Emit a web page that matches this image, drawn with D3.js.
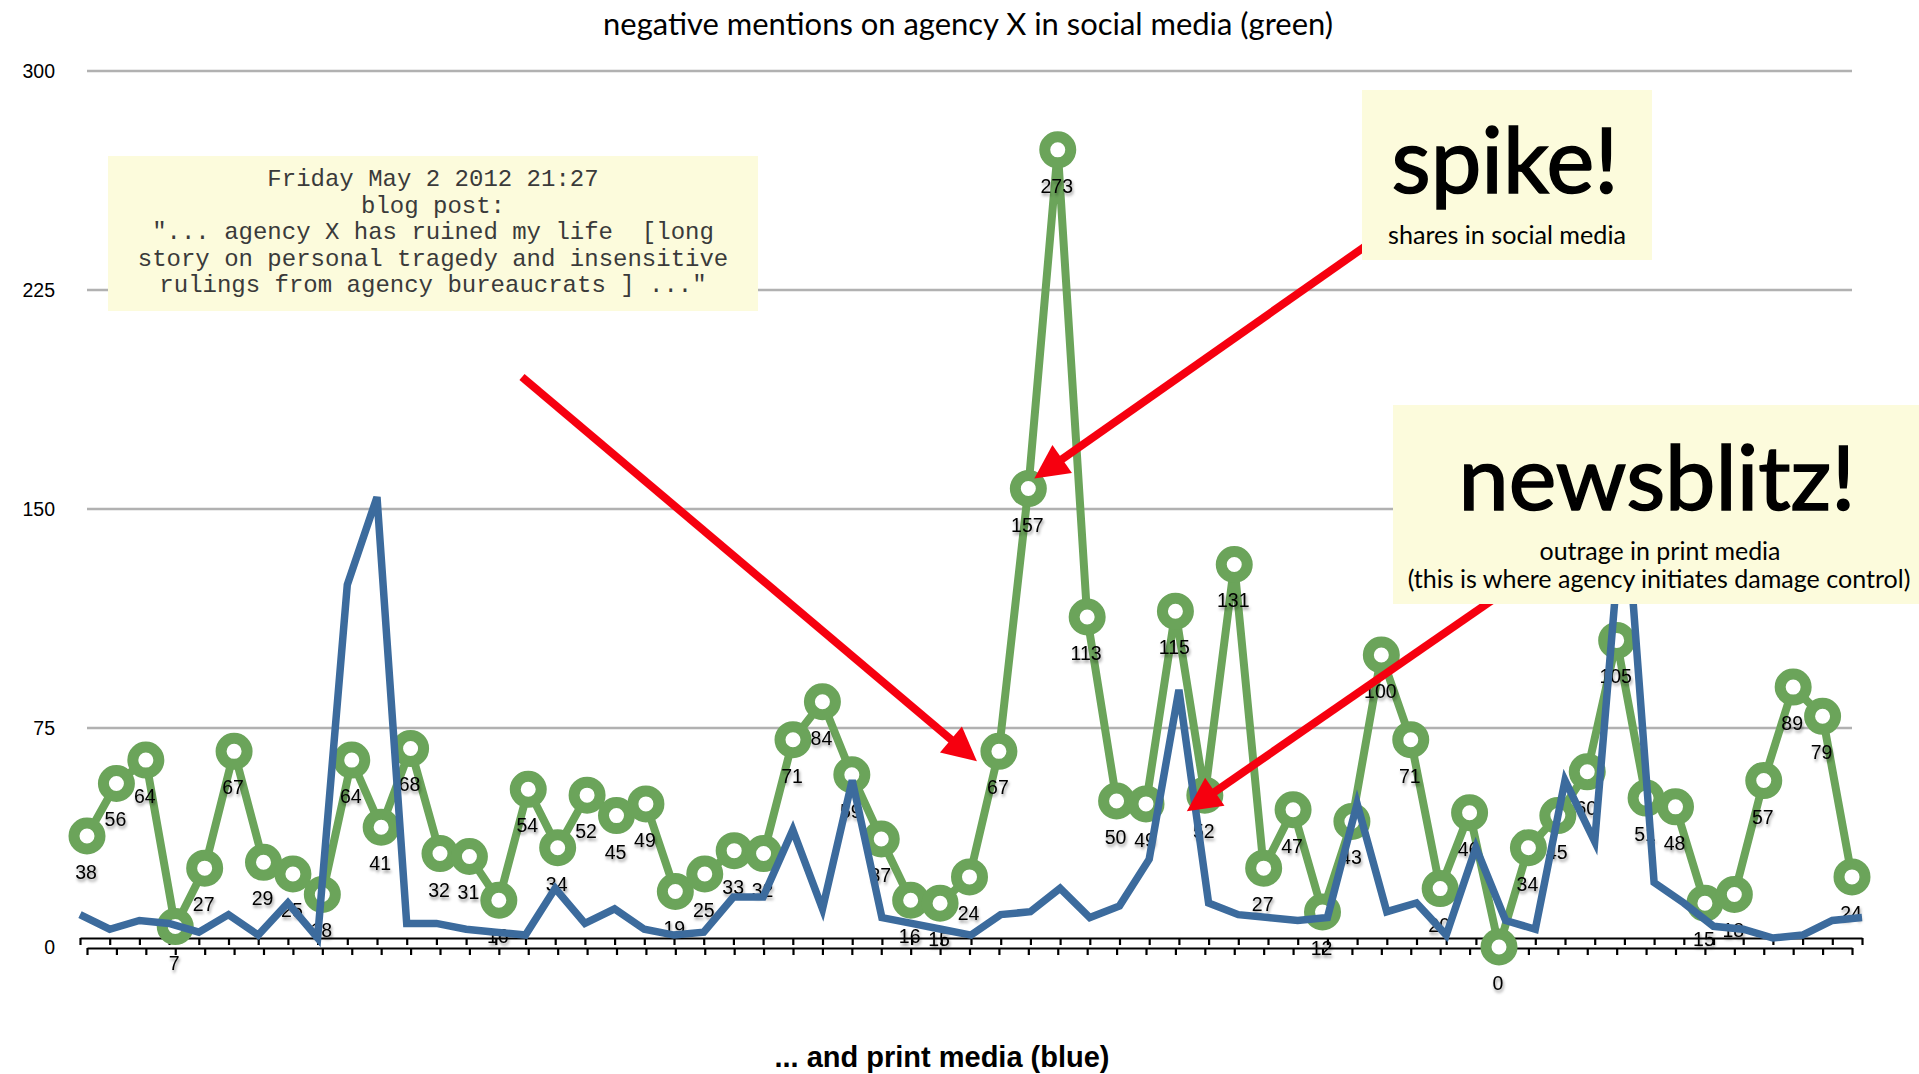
<!DOCTYPE html>
<html>
<head>
<meta charset="utf-8">
<script src="https://cdn.jsdelivr.net/npm/d3@7"></script>
<style>
  html, body { margin: 0; padding: 0; background: #fff; }
  svg { display: block; }
</style>
</head>
<body>
<svg id="chart" width="1919" height="1074"></svg>
<script>
// Negative mentions per day, social media (green) and print media (blue)
const days = d3.range(61);
const socialMentions = [
  38, 56, 64, 7, 27, 67, 29, 25, 18, 64, 41, 68, 32, 31, 16, 54, 34, 52, 45, 49,
  19, 25, 33, 32, 71, 84, 59, 37, 16, 15, 24, 67, 157, 273, 113, 50, 49, 115, 52, 131,
  27, 47, 12, 43, 100, 71, 20, 46, 0, 34, 45, 60, 105, 51, 48, 15, 18, 57, 89, 79, 24
];
const printMentions = [
  8, 3, 6, 5, 2, 8, 1, 12, 0, 121, 151, 5, 5, 3, 2, 1, 17, 5, 10, 3,
  1, 2, 14, 14, 37, 10, 54, 7, 5, 3, 1, 8, 9, 17, 7, 11, 27, 85, 12, 8,
  7, 6, 7, 46, 9, 12, 1, 31, 6, 3, 54, 33, 155, 19, 12, 4, 3, 0, 1, 6, 7
];
const yTicks = [0, 75, 150, 225, 300];

const titleText = "negative mentions on agency X in social media (green)";
const footText = "... and print media (blue)";
const blogLines = [
  "Friday May 2 2012 21:27",
  "blog post:",
  "\"... agency X has ruined my life  [long",
  "story on personal tragedy and insensitive",
  "rulings from agency bureaucrats ] ...\""
];

const GREEN = "#6ba45a";
const BLUE = "#3c6b9d";
const RED = "#f6000f";
const NOTE = "#fcfbdc";
const FUTURA = "Lato, 'Noto Sans', sans-serif";

const svg = d3.select("#chart");

// Two overlaid plots: social (green) and print (blue), each with its own axis
const xG = d3.scalePoint().domain(days).range([87, 1852]);
const yG = d3.scaleLinear().domain([0, 300]).range([947, 71]);
const xB = d3.scalePoint().domain(days).range([80, 1862]);
const yB = d3.scaleLinear().domain([0, 300]).range([938, 62]);

const defs = svg.append("defs");
const shadow = defs.append("filter").attr("id", "lblShadow")
  .attr("x", "-30%").attr("y", "-30%").attr("width", "160%").attr("height", "170%");
shadow.append("feDropShadow").attr("dx", 1).attr("dy", 2.5)
  .attr("stdDeviation", 1.6).attr("flood-color", "#000").attr("flood-opacity", 0.45);

// helper: scale a text's font size so that it spans a given width
function fitWidth(sel, width) {
  const w = sel.node().getComputedTextLength();
  const fs = parseFloat(sel.attr("font-size"));
  sel.attr("font-size", (fs * width / w).toFixed(2));
  return sel;
}

// Title
fitWidth(svg.append("text")
  .attr("x", 968).attr("y", 35)
  .attr("text-anchor", "middle")
  .attr("font-family", FUTURA).attr("font-size", 24).attr("fill", "#000")
  .text(titleText), 730);

// Gridlines
svg.append("g").selectAll("line")
  .data(yTicks.filter(d => d > 0))
  .join("line")
  .attr("x1", xG.range()[0]).attr("x2", xG.range()[1])
  .attr("y1", d => yG(d)).attr("y2", d => yG(d))
  .attr("stroke", "#b1b1b1").attr("stroke-width", 2.6);

// Y-axis labels
svg.append("g").selectAll("text")
  .data(yTicks)
  .join("text")
  .attr("x", 55).attr("y", d => yG(d) + 7)
  .attr("text-anchor", "end")
  .attr("font-family", "'Liberation Sans', Arial, sans-serif")
  .attr("font-size", 19.5).attr("fill", "#000")
  .text(d => d);

// X axes (no tick labels)
function styleAxis(g) {
  g.select(".domain").attr("stroke", "#000").attr("stroke-width", 2.2);
  g.selectAll(".tick line").attr("stroke", "#000").attr("stroke-width", 2.2);
}
svg.append("g").attr("transform", `translate(0,${yB(0)})`)
  .call(d3.axisBottom(xB).tickSize(7).tickSizeOuter(0).tickFormat(""))
  .call(styleAxis);
svg.append("g").attr("transform", `translate(0,${yG(0) + 1})`)
  .call(d3.axisBottom(xG).tickSize(7).tickSizeOuter(0).tickFormat(""))
  .call(styleAxis);

// Social media line with ring markers
svg.append("path")
  .datum(socialMentions)
  .attr("fill", "none").attr("stroke", GREEN).attr("stroke-width", 8)
  .attr("d", d3.line().x((d, i) => xG(i)).y(d => yG(d)));

svg.append("g").selectAll("circle")
  .data(socialMentions)
  .join("circle")
  .attr("cx", (d, i) => xG(i)).attr("cy", d => yG(d))
  .attr("r", 13)
  .attr("fill", "#fff").attr("stroke", GREEN).attr("stroke-width", 11);

// Value labels under each marker
svg.append("g").attr("filter", "url(#lblShadow)")
  .selectAll("text")
  .data(socialMentions)
  .join("text")
  .attr("x", (d, i) => xG(i) - 1).attr("y", d => yG(d) + 43)
  .attr("text-anchor", "middle")
  .attr("font-family", "'Liberation Sans', Arial, sans-serif")
  .attr("font-size", 19.5).attr("fill", "#000")
  .text(d => d);

// Print media line
svg.append("path")
  .datum(printMentions)
  .attr("fill", "none").attr("stroke", BLUE).attr("stroke-width", 7.5)
  .attr("d", d3.line().x((d, i) => xB(i)).y(d => yB(d)));

// Annotation arrows, tips placed relative to the marked days
function arrow(x1, y1, x2, y2) {
  const ang = Math.atan2(y2 - y1, x2 - x1);
  const len = 34, half = 17;
  const bx = x2 - len * Math.cos(ang), by = y2 - len * Math.sin(ang);
  const g = svg.append("g");
  g.append("line")
    .attr("x1", x1).attr("y1", y1).attr("x2", bx + 2 * Math.cos(ang)).attr("y2", by + 2 * Math.sin(ang))
    .attr("stroke", RED).attr("stroke-width", 8);
  g.append("path")
    .attr("d", `M${x2},${y2}L${bx + half * Math.sin(ang)},${by - half * Math.cos(ang)}L${bx - half * Math.sin(ang)},${by + half * Math.cos(ang)}Z`)
    .attr("fill", RED);
}
arrow(522, 377, xG(31) - 22, yG(socialMentions[31]) + 10);
arrow(1380, 236, xG(32) + 6, yG(socialMentions[32]) - 10);
arrow(1504, 592, xG(38) - 18, yG(socialMentions[38]) + 16);

// Note: blog post
svg.append("rect").attr("x", 108).attr("y", 156).attr("width", 650).attr("height", 155).attr("fill", NOTE);
svg.append("g").selectAll("text")
  .data(blogLines)
  .join("text")
  .attr("x", 433).attr("y", (d, i) => 186 + i * 26.6)
  .attr("text-anchor", "middle")
  .attr("font-family", "'Liberation Mono', 'Courier New', monospace")
  .attr("font-size", 24).attr("fill", "#3a3a3a")
  .attr("xml:space", "preserve")
  .style("white-space", "pre")
  .text(d => d);

// Note: spike
svg.append("rect").attr("x", 1362).attr("y", 90).attr("width", 290).attr("height", 170).attr("fill", NOTE);
fitWidth(svg.append("text").attr("x", 1505).attr("y", 193).attr("text-anchor", "middle")
  .attr("font-family", FUTURA).attr("font-size", 90).attr("fill", "#000")
  .attr("stroke", "#000").attr("stroke-width", 1.6).text("spike!"), 227);
fitWidth(svg.append("text").attr("x", 1507).attr("y", 244).attr("text-anchor", "middle")
  .attr("font-family", FUTURA).attr("font-size", 24).attr("fill", "#000").text("shares in social media"), 238);

// Note: newsblitz
svg.append("rect").attr("x", 1393).attr("y", 405).attr("width", 526).attr("height", 199).attr("fill", NOTE);
fitWidth(svg.append("text").attr("x", 1657).attr("y", 510).attr("text-anchor", "middle")
  .attr("font-family", FUTURA).attr("font-size", 90).attr("fill", "#000")
  .attr("stroke", "#000").attr("stroke-width", 1.6).text("newsblitz!"), 397);
fitWidth(svg.append("text").attr("x", 1660).attr("y", 560).attr("text-anchor", "middle")
  .attr("font-family", FUTURA).attr("font-size", 24).attr("fill", "#000").text("outrage in print media"), 241);
fitWidth(svg.append("text").attr("x", 1659).attr("y", 588).attr("text-anchor", "middle")
  .attr("font-family", FUTURA).attr("font-size", 24).attr("fill", "#000").text("(this is where agency initiates damage control)"), 503);

// Bottom caption
fitWidth(svg.append("text")
  .attr("x", 942).attr("y", 1067)
  .attr("text-anchor", "middle")
  .attr("font-family", "'Liberation Sans', Arial, sans-serif")
  .attr("font-weight", "bold").attr("font-size", 26).attr("fill", "#000")
  .text(footText), 335);
</script>
</body>
</html>
